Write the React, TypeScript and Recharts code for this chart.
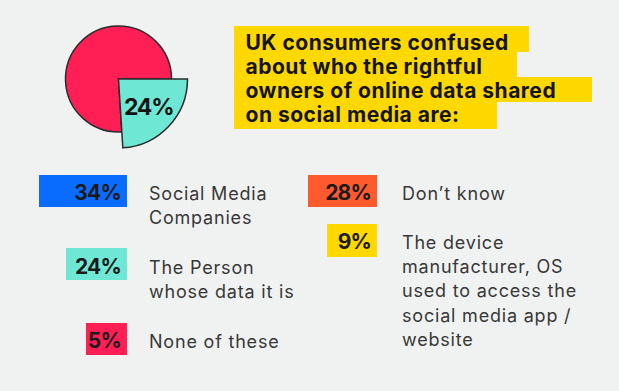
import React from "react";
import { PieChart, Pie, Cell } from "recharts";

// ---- data ----
const pieNames = ["The Person whose data it is", "Everyone else"];
const pieValues = [24, 76];

const titleLines = [
  "UK consumers confused",
  "about who the rightful",
  "owners of online data shared",
  "on social media are:",
];

const categories = [
  "Social Media Companies",
  "The Person whose data it is",
  "None of these",
  "Don’t know",
  "The device manufacturer, OS used to access the social media app / website",
];
const shares = [34, 24, 5, 28, 9];
const categoryLines = [
  ["Social Media", "Companies"],
  ["The Person", "whose data it is"],
  ["None of these"],
  ["Don’t know"],
  ["The device", "manufacturer, OS", "used to access the", "social media app /", "website"],
];

// ---- styles ----
const BG = "#f0f2f1";
const RED = "#ff1f55";
const TEAL = "#6ee8d5";
const BLUE = "#0a6cff";
const ORANGE = "#ff5a2d";
const YELLOW = "#ffd800";
const STROKE = "#2b2b2b";
const catColors = [BLUE, TEAL, RED, ORANGE, YELLOW];

const legendLayout = [
  { right: 127, left: 39, top: 175, h: 32, base: 200, labelX: 149 },
  { right: 127, left: 66, top: 248, h: 32, base: 274, labelX: 149 },
  { right: 127, left: 86, top: 323, h: 32, base: 348, labelX: 149 },
  { right: 377, left: 308, top: 175, h: 32, base: 200, labelX: 402 },
  { right: 377, left: 327, top: 224, h: 33, base: 248.5, labelX: 402 },
];
const titleBoxes = [
  { x: 234, y: 26, w: 295, h: 26, base: 49.5 },
  { x: 234, y: 52, w: 283, h: 25, base: 74 },
  { x: 234, y: 77, w: 358, h: 25, base: 97.5 },
  { x: 234, y: 102, w: 263, h: 27, base: 122 },
];

const pieData = pieNames.map((name, i) => ({ name, value: pieValues[i] }));

const FONT = "Inter, 'Noto Sans', sans-serif";

const RADIAN = Math.PI / 180;
const renderPieLabel = (props: any) => {
  const { cx, cy, midAngle, outerRadius, index, value } = props;
  if (index !== 0) return null;
  const r = outerRadius * 0.6;
  const x = cx + r * Math.cos(-midAngle * RADIAN);
  const y = cy + r * Math.sin(-midAngle * RADIAN);
  return (
    <text
      x={x}
      y={y + 8}
      textAnchor="middle"
      fontFamily={FONT}
      fontWeight={700}
      fontSize={23}
      letterSpacing={-1.2}
      fill="#141414"
    >
      {value}%
    </text>
  );
};

export default function App() {
  return (
    <div
      style={{
        position: "absolute",
        left: 0,
        top: 0,
        width: 619,
        height: 391,
        background: BG,
        overflow: "hidden",
      }}
    >
      <div style={{ position: "absolute", left: 0, top: 0 }}>
        <PieChart width={619} height={391} margin={{ top: 0, right: 0, bottom: 0, left: 0 }}>
          <Pie
            data={pieData}
            dataKey="value"
            nameKey="name"
            cx={118.5}
            cy={79}
            startAngle={0}
            endAngle={-360}
            innerRadius={0}
            outerRadius={53}
            stroke={STROKE}
            strokeWidth={1.5}
            isAnimationActive={false}
          >
            <Cell key="a" fill="none" stroke="none" />
            <Cell key="b" fill={RED} />
          </Pie>
          <Pie
            data={pieData}
            dataKey="value"
            nameKey="name"
            cx={118.5}
            cy={79}
            startAngle={0}
            endAngle={-360}
            innerRadius={0}
            outerRadius={69}
            stroke={STROKE}
            strokeWidth={1.5}
            isAnimationActive={false}
            label={renderPieLabel}
            labelLine={false}
          >
            <Cell key="a" fill={TEAL} />
            <Cell key="b" fill="none" stroke="none" />
          </Pie>
        </PieChart>
      </div>
      <svg
        width={619}
        height={391}
        style={{ position: "absolute", left: 0, top: 0, pointerEvents: "none" }}
      >
        {titleBoxes.map((b, i) => (
          <rect key={"tb" + i} x={b.x} y={b.y} width={b.w} height={b.h} fill={YELLOW} />
        ))}
        {titleLines.map((t, i) => (
          <text
            key={"tt" + i}
            x={245.5}
            y={titleBoxes[i].base}
            fontFamily={FONT}
            fontWeight={700}
            fontSize={21}
            letterSpacing={0.5}
            fill="#141414"
          >
            {t}
          </text>
        ))}
        {categories.map((c, i) => {
          const L = legendLayout[i];
          return (
            <g key={"lg" + i}>
              <rect x={L.left} y={L.top} width={L.right - L.left} height={L.h} fill={catColors[i]} />
              <text
                x={L.right - 6}
                y={L.base}
                textAnchor="end"
                fontFamily={FONT}
                fontWeight={700}
                fontSize={21}
                letterSpacing={-0.8}
                fill="#1a1a1a"
              >
                {shares[i]}%
              </text>
              {categoryLines[i].map((line, j) => (
                <text
                  key={j}
                  x={L.labelX}
                  y={L.base + j * 24.4}
                  fontFamily={FONT}
                  fontWeight={400}
                  fontSize={18}
                  letterSpacing={0.8}
                  fill="#383838"
                >
                  {line}
                </text>
              ))}
            </g>
          );
        })}
      </svg>
    </div>
  );
}
